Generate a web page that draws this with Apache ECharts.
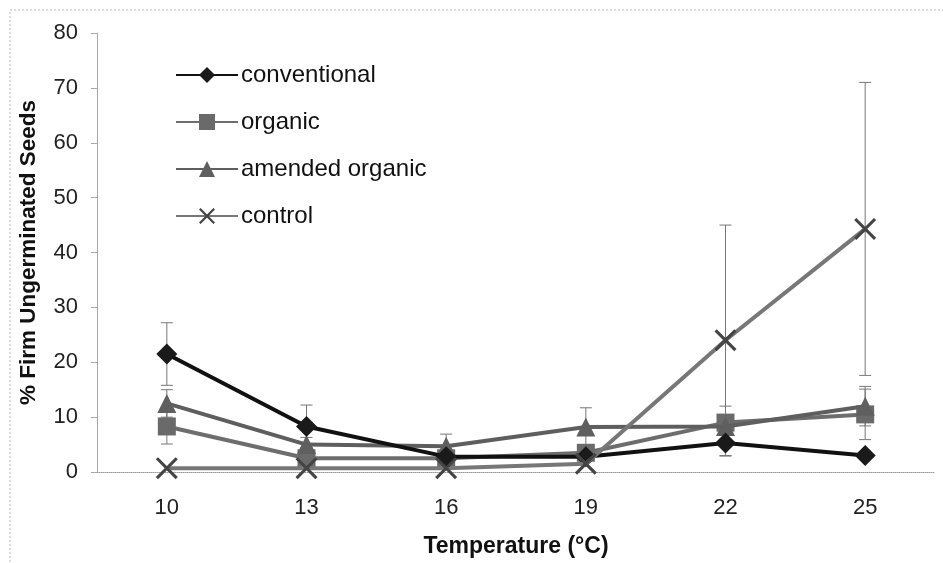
<!DOCTYPE html>
<html><head><meta charset="utf-8">
<script src="https://cdn.jsdelivr.net/npm/echarts@6/dist/echarts.min.js"></script>
<style>html,body{margin:0;padding:0;background:#fff}#c{width:943px;height:563px}</style>
</head><body><div id="c"></div>
<script>
const categories = ['10','13','16','19','22','25'];
const conventional = [21.5, 8.3, 2.8, 2.8, 5.3, 3.0];
const conventionalErr = [5.7, 3.9, 0, 0, 2.4, 0];
const organic = [8.3, 2.5, 2.5, 3.5, 9.0, 10.5];
const organicErr = [3.2, 0, 0, 0, 3.0, 4.6];
const amended = [12.5, 5.0, 4.7, 8.2, 8.3, 12.0];
const amendedErr = [2.5, 1.3, 2.2, 3.5, 0, 3.6];
const control = [0.7, 0.7, 0.7, 1.5, 24.0, 44.3];
const controlErr = [0, 0, 0, 0, 21.0, 26.7];
const yTicks = [0,10,20,30,40,50,60,70,80];

function errData(vals, errs){
  const out=[];
  vals.forEach((v,i)=>{ if(errs[i]>0) out.push([i, Math.max(0,v-errs[i]), v+errs[i]]); });
  return out;
}
const allErr = [].concat(errData(conventional,conventionalErr), errData(organic,organicErr), errData(amended,amendedErr), errData(control,controlErr));

const FONT = "'Liberation Sans',Arial,sans-serif";
const cross = 'path://M0,1 L1,0 L10,9 L9,10 Z M9,0 L10,1 L1,10 L0,9 Z';

const chart = echarts.init(document.getElementById('c'));
chart.setOption({
  animation:false,
  backgroundColor:'#fff',
  graphic:[{type:'rect',shape:{x:10,y:10,width:940,height:560},style:{fill:'none',stroke:'#bbb',lineWidth:1,lineDash:[2,2]},silent:true,z:-10}],
  grid:{left:97,right:8,top:33,bottom:90},
  legend:{
    orient:'vertical',left:170,top:58,itemWidth:62,itemHeight:20,itemGap:23,
    textStyle:{fontFamily:FONT,fontSize:24,color:'#111',padding:[0,0,0,-2]},
    data:['conventional','organic','amended organic','control']
  },
  xAxis:{
    type:'category',data:categories,boundaryGap:true,
    name:'Temperature (°C)',nameLocation:'middle',nameGap:63,
    nameTextStyle:{fontFamily:FONT,fontWeight:'bold',fontSize:23,color:'#111'},
    axisLine:{lineStyle:{color:'#999',width:1,type:'dotted'}},
    axisTick:{show:false},
    axisLabel:{margin:25,fontFamily:FONT,fontSize:22,color:'#222'}
  },
  yAxis:{
    type:'value',min:0,max:80,interval:10,
    name:'% Firm Ungerminated Seeds',nameLocation:'middle',nameGap:57,
    nameTextStyle:{fontFamily:FONT,fontWeight:'bold',fontSize:22.5,color:'#111'},
    axisLine:{show:true,lineStyle:{color:'#aaa',width:1}},
    axisTick:{show:true,inside:false,length:6,lineStyle:{color:'#aaa'}},
    splitLine:{show:false},
    axisLabel:{margin:19,fontFamily:FONT,fontSize:22,color:'#222',formatter:v=>yTicks.includes(v)?String(v):''}
  },
  series:[
    {type:'custom',name:'err',silent:true,z:1,
     renderItem:function(params,api){
       const x=api.value(0), lo=api.coord([x,api.value(1)]), hi=api.coord([x,api.value(2)]);
       const w=6;
       return {type:'group',children:[
         {type:'line',shape:{x1:lo[0],y1:lo[1],x2:hi[0],y2:hi[1]},style:{stroke:'#777',lineWidth:1}},
         {type:'line',shape:{x1:lo[0]-w,y1:lo[1],x2:lo[0]+w,y2:lo[1]},style:{stroke:'#777',lineWidth:1}},
         {type:'line',shape:{x1:hi[0]-w,y1:hi[1],x2:hi[0]+w,y2:hi[1]},style:{stroke:'#777',lineWidth:1}}
       ]};
     },
     data:allErr},
    {type:'line',name:'conventional',data:conventional,symbol:'diamond',symbolSize:[21,21],z:5,
     lineStyle:{color:'#111',width:4},itemStyle:{color:'#1a1a1a'}},
    {type:'line',name:'organic',data:organic,symbol:'rect',symbolSize:18,z:3,
     lineStyle:{color:'#6d6d6d',width:4},itemStyle:{color:'#6a6a6a'}},
    {type:'line',name:'amended organic',data:amended,symbol:'triangle',symbolSize:[19,19],z:4,
     lineStyle:{color:'#5e5e5e',width:4},itemStyle:{color:'#5f5f5f'}},
    {type:'line',name:'control',data:control,symbol:cross,symbolSize:22,z:6,
     lineStyle:{color:'#777',width:4},itemStyle:{color:'#444'}}
  ]
});
</script></body></html>
